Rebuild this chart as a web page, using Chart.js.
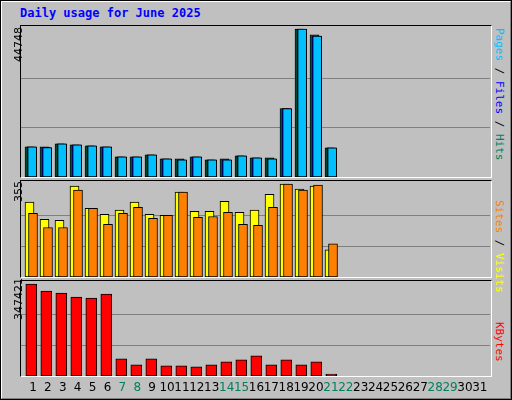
<!DOCTYPE html>
<html>
<head>
<meta charset="utf-8">
<script src="https://cdn.jsdelivr.net/npm/chart.js"></script>
<style>
  body { margin: 0; background: #fff; }
  #frame { position: absolute; left: 0; top: 0; width: 508px; height: 396px; background: #c0c0c0;
    border: 2px solid; border-color: #fff #808080 #808080 #fff; outline: 1px solid #000; outline-offset: -1px; }
  .panel { position: absolute; left: 20px; width: 470px; border: 1px solid; border-color: #000 #fff #fff #000; }
  canvas { position: absolute; }
  .title { position: absolute; left: 20px; top: 6px; font: bold 12px "DejaVu Sans Mono", monospace; color: #0000ff; }
  .ylab { position: absolute; font: 11px "DejaVu Sans", sans-serif; color: #000; transform-origin: 0 0; transform: rotate(-90deg); white-space: nowrap; }
  .leg { position: absolute; left: 506px; font: 11px "DejaVu Sans Mono", monospace; transform-origin: 0 0; transform: rotate(90deg); white-space: nowrap; }
</style>
</head>
<body>
<div id="frame"></div>
<div class="title">Daily usage for June 2025</div>
<div class="panel" style="top:25px;height:151px"></div>
<div class="panel" style="top:180px;height:96px"></div>
<div class="panel" style="top:280px;height:95px"></div>
<canvas id="c1" style="left:21px;top:26px" width="469" height="151"></canvas>
<canvas id="c2" style="left:21px;top:181px" width="469" height="96"></canvas>
<canvas id="c3" style="left:21px;top:281px" width="469" height="117"></canvas>
<div class="ylab" style="left:12px;top:62px">44748</div>
<div class="ylab" style="left:12px;top:202px">355</div>
<div class="ylab" style="left:12px;top:320px">347421</div>
<div class="leg" style="top:28px"><span style="color:#00c0ff">Pages</span> / <span style="color:#0000ff">Files</span> / <span style="color:#00805c">Hits</span></div>
<div class="leg" style="top:200px"><span style="color:#ff8000">Sites</span> / <span style="color:#ffff00">Visits</span></div>
<div class="leg" style="top:322px"><span style="color:#ff0000">KBytes</span></div>
<script>
const days = [1,2,3,4,5,6,7,8,9,10,11,12,13,14,15,16,17,18,19,20,21];
const allDays = Array.from({length: 31}, (_, i) => i + 1);
const weekendDays = [7,8,14,15,21,22,28,29];
const hits   = [9130,9130,10040,9740,9440,9130,6090,6090,6700,5480,5480,6090,5180,5480,6390,5780,5780,20700,44748,43020,8830];
const files  = [9130,8930,10040,9740,9440,9130,6090,6090,6700,5480,5180,6090,5180,5180,6390,5780,5480,20700,44748,42620,8830];
const pages  = [9130,8930,10040,9740,9440,9130,6090,6090,6700,5480,5180,6090,5180,5180,6390,5780,5480,20700,44748,42620,8830];
const visits = [286,220,216,347,262,239,255,286,239,235,324,251,251,289,247,255,316,355,336,347,104];
const sites  = [243,189,189,332,262,201,243,266,224,235,324,228,231,247,201,197,266,355,332,351,127];
const kbytes = [347421,320700,313060,297800,293980,309250,64900,42000,64900,38180,38180,34360,42000,53450,61090,76360,42000,61090,42000,53450,7640];
const maxLabels = [44748, 355, 347421];

const pts = (vals, off) => vals.map((v, i) => ({x: days[i] + off, y: v}));
// lower order is drawn on top
const ds = (vals, off, color, w, order) => ({data: pts(vals, off), backgroundColor: color, borderColor: '#000',
  borderWidth: 1, borderSkipped: false, barThickness: w, grouped: false, order: order});

function opts(peak, top, extraBottom) {
  return {
    responsive: false, animation: false, events: [],
    layout: {padding: {left: 0, right: 0, top: 0, bottom: extraBottom || 0}},
    plugins: {legend: {display: false}, tooltip: {enabled: false}},
    scales: {
      x: {type: 'linear', min: 0.433, max: 31.7, offset: false, display: false},
      y: {min: 0, max: top, ticks: {display: false}, border: {display: false},
          grid: {color: '#808080', drawTicks: false},
          afterBuildTicks: s => { s.ticks = [{value: peak / 3}, {value: peak * 2 / 3}]; }}
    }
  };
}

new Chart(document.getElementById('c1'), {
  type: 'bar',
  data: {datasets: [ds(hits, 0, '#00805c', 9, 3), ds(files, 0.113, '#0000ff', 9, 2), ds(pages, 0.18, '#00c0ff', 9, 1)]},
  options: opts(maxLabels[0], maxLabels[0] * 151 / 148)
});
new Chart(document.getElementById('c2'), {
  type: 'bar',
  data: {datasets: [ds(visits, 0, '#ffff00', 9, 2), ds(sites, 0.233, '#ff8000', 9, 1)]},
  options: opts(maxLabels[1], maxLabels[1] * 96 / 93)
});

const dayLabels = {
  id: 'dayLabels',
  afterDraw(chart) {
    const c = chart.ctx, xs = chart.scales.x;
    c.save();
    c.font = '12px "DejaVu Sans", sans-serif';
    c.textAlign = 'center';
    c.textBaseline = 'middle';
    allDays.forEach(d => {
      c.fillStyle = weekendDays.includes(d) ? '#00805c' : '#000';
      c.fillText(String(d), xs.getPixelForValue(d + 0.233 - (d - 1) * 0.007), chart.chartArea.bottom + 12);
    });
    c.restore();
  }
};
new Chart(document.getElementById('c3'), {
  type: 'bar',
  data: {datasets: [ds(kbytes, 0.12, '#ff0000', 11, 1)]},
  options: opts(maxLabels[2], maxLabels[2] * 95 / 92, 22),
  plugins: [dayLabels]
});
</script>
</body>
</html>
